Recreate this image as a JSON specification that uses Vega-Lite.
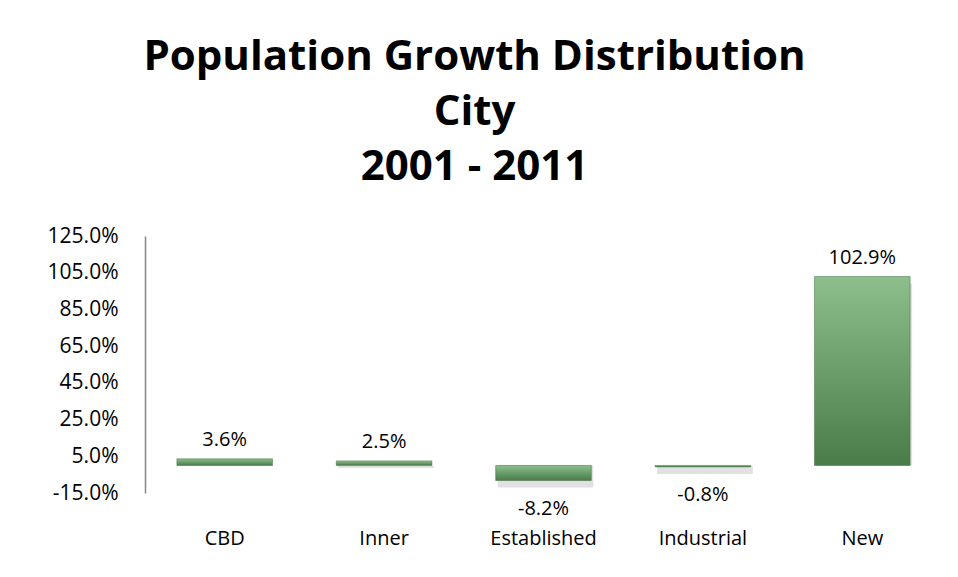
{
  "$schema": "https://vega.github.io/schema/vega-lite/v6.json",
  "autosize": "none",
  "padding": {"left": 145, "top": 236, "right": 16, "bottom": 84},
  "width": 797,
  "height": 257,
  "background": "white",
  "config": {
    "view": {"stroke": null},
    "font": "Open Sans",
    "axis": {"labelFont": "Open Sans", "labelColor": "#000000"},
    "locale": {"number": {"decimal": ".", "thousands": ",", "grouping": [3], "currency": ["$", ""], "minus": "-"}}
  },
  "title": {
    "text": ["Population Growth Distribution", "City", "2001 - 2011"],
    "font": "Open Sans",
    "fontSize": 42,
    "fontWeight": "bold",
    "color": "#000000",
    "lineHeight": 55,
    "anchor": "middle",
    "dx": -69,
    "offset": 36
  },
  "data": {
    "values": [
      {"zone": "CBD", "growth": 0.036},
      {"zone": "Inner", "growth": 0.025},
      {"zone": "Established", "growth": -0.082},
      {"zone": "Industrial", "growth": -0.008},
      {"zone": "New", "growth": 1.029}
    ]
  },
  "encoding": {
    "x": {
      "field": "zone",
      "type": "nominal",
      "sort": null,
      "scale": {"paddingInner": 0.4, "paddingOuter": 0.2},
      "axis": {
        "title": null,
        "labelAngle": 0,
        "domain": false,
        "ticks": false,
        "labelFontSize": 20,
        "labelPadding": 35,
        "labelColor": "#000000"
      }
    },
    "y": {
      "field": "growth",
      "type": "quantitative",
      "scale": {"domain": [-0.15, 1.25], "nice": false, "zero": false},
      "axis": {
        "title": null,
        "values": [-0.15, 0.05, 0.25, 0.45, 0.65, 0.85, 1.05, 1.25],
        "format": ".1%",
        "labelOverlap": false,
        "grid": false,
        "ticks": false,
        "domainColor": "#868686",
        "domainWidth": 1.5,
        "labelFontSize": 21,
        "labelPadding": 27,
        "labelColor": "#000000"
      }
    }
  },
  "layer": [
    {
      "mark": {"type": "bar", "color": "#9a9a9a", "opacity": 0.3, "yOffset": 7, "xOffset": 2},
      "encoding": {
        "y2": {"datum": 0}
      }
    },
    {
      "mark": {
        "type": "bar",
        "stroke": "#3f6f3f",
        "strokeWidth": 1,
        "strokeOpacity": 0.5,
        "fill": {
          "gradient": "linear",
          "x1": 0, "y1": 0, "x2": 0, "y2": 1,
          "stops": [
            {"offset": 0, "color": "#8dbf8d"},
            {"offset": 1, "color": "#4a7c4a"}
          ]
        }
      },
      "encoding": {
        "y2": {"datum": 0}
      }
    },
    {
      "mark": {"type": "rule", "color": "#868686", "strokeWidth": 1.5},
      "encoding": {"y": {"datum": 0}}
    },
    {
      "transform": [{"filter": "datum.growth >= 0"}],
      "mark": {"type": "text", "fontSize": 20, "baseline": "bottom", "dy": -9, "color": "#000000"},
      "encoding": {
        "text": {"field": "growth", "type": "quantitative", "format": ".1%"}
      }
    },
    {
      "transform": [{"filter": "datum.growth < 0"}],
      "mark": {"type": "text", "fontSize": 20, "baseline": "top", "dy": 18, "color": "#000000"},
      "encoding": {
        "text": {"field": "growth", "type": "quantitative", "format": ".1%"}
      }
    }
  ]
}
